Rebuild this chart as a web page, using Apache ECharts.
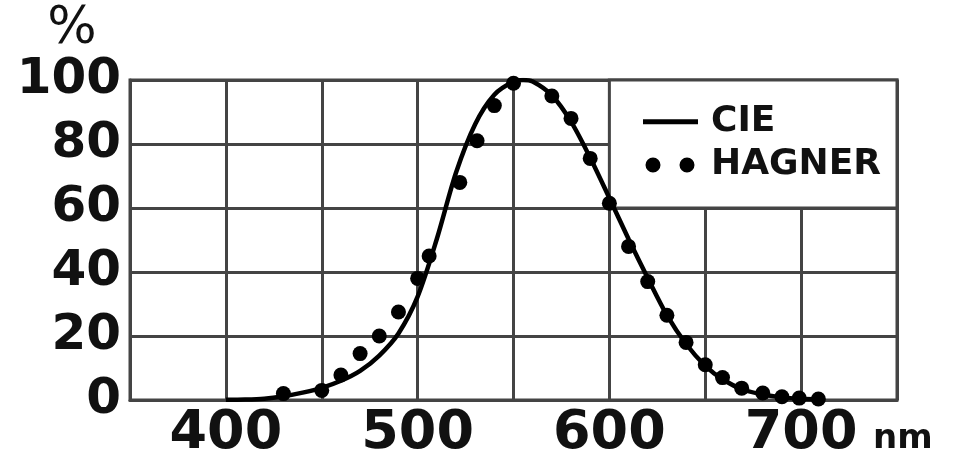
<!DOCTYPE html>
<html>
<head>
<meta charset="utf-8">
<script src="https://cdn.jsdelivr.net/npm/echarts@6/dist/echarts.min.js"></script>
<style>html,body{margin:0;padding:0;background:#fff}#c{width:955px;height:456px}</style>
</head>
<body>
<div id="c"></div>
<script>
// CIE photopic curve: wavelength (nm), relative sensitivity (%)
var cieWavelengths = [400,410,420,430,440,450,460,470,480,490,500,510,520,530,540,550,555,560,570,580,590,600,610,620,630,640,650,660,670,680,690,700,710];
var cieValues      = [0.04,0.12,0.4,1.16,2.3,3.8,6.0,9.1,13.9,20.8,32.3,50.3,71.0,86.2,95.4,99.5,100,99.5,95.2,87.0,75.7,63.1,50.3,38.1,26.5,17.5,10.7,6.1,3.2,1.7,0.82,0.41,0.21];
// HAGNER measured points
var hagnerWavelengths = [430,450,460,470,480,490,500,506,522,531,540,550,570,580,590,600,610,620,630,640,650,659,669,680,690,699,709];
var hagnerValues      = [2,3,7.8,14.5,20,27.5,38,45,68,81,92,99,95,88,75.5,61.5,48,37,26.5,18,11,7,3.7,2.2,1,0.6,0.3];
var xTicks = [400,500,600,700];
var yTicks = [0,20,40,60,80,100];

var cieData = cieWavelengths.map(function(w,i){return [w,cieValues[i]];});
var hagData = hagnerWavelengths.map(function(w,i){return [w,hagnerValues[i]];});

var gridColor = '#444';
var chart = echarts.init(document.getElementById('c'), null, {renderer:'canvas'});
chart.setOption({
  animation:false,
  backgroundColor:'#fff',
  grid:{left:130,right:58,top:80,bottom:56,show:true,borderColor:gridColor,borderWidth:3,backgroundColor:'#fff',
    outerBoundsMode:'none', containLabel:false},
  legend:{
    orient:'vertical', left:643, top:104, padding:0, itemGap:7,
    itemWidth:55, itemHeight:16,
    data:[
      {name:'CIE', icon:'path://M0,5.5L0,5.5M0,0H55V5H0Z'},
      {name:'HAGNER', icon:'path://M0,0L0,0M55,16L55,16M2.5,8a7.5,7.5 0 1,0 15,0a7.5,7.5 0 1,0 -15,0ZM36.5,8a7.5,7.5 0 1,0 15,0a7.5,7.5 0 1,0 -15,0Z'}
    ],
    textStyle:{fontFamily:'DejaVu Sans',fontWeight:'bold',fontSize:36,color:'#111',padding:[0,0,0,8]}
  },
  xAxis:{
    type:'value', min:350, max:750, interval:50,
    name:'nm', nameLocation:'end', nameGap:-24,
    nameTextStyle:{fontFamily:'DejaVu Sans',fontWeight:'bold',fontSize:34,color:'#111',verticalAlign:'top',padding:[22,0,0,0]},
    axisLine:{show:true,lineStyle:{color:gridColor,width:3}},
    axisTick:{show:false},
    splitLine:{show:true,lineStyle:{color:gridColor,width:3}},
    axisLabel:{
      margin:7, fontFamily:'DejaVu Sans', fontWeight:'bold', fontSize:54, color:'#111',
      formatter:function(v){return xTicks.indexOf(v)>=0?String(v):'';}
    }
  },
  yAxis:{
    type:'value', min:0, max:100, interval:20,
    name:'%', nameLocation:'end', nameGap:24,
    nameTextStyle:{fontFamily:'DejaVu Sans',fontSize:52,color:'#111',align:'center',padding:[0,116,0,0]},
    axisLine:{show:true,lineStyle:{color:gridColor,width:3}},
    axisTick:{show:false},
    splitLine:{show:true,lineStyle:{color:gridColor,width:3}},
    axisLabel:{
      margin:9, fontFamily:'DejaVu Sans', fontWeight:'bold', fontSize:50, color:'#111',
      formatter:function(v){return yTicks.indexOf(v)>=0?String(v):'';}
    }
  },
  series:[
    {
      name:'legendBox', type:'line', data:[], z:1, silent:true,
      markArea:{silent:true,itemStyle:{color:'#fff',borderColor:gridColor,borderWidth:3},
        data:[[{xAxis:600,yAxis:60},{xAxis:750,yAxis:100}]]}
    },
    {
      name:'CIE', type:'line', data:cieData, smooth:0.3, showSymbol:false, z:3,
      lineStyle:{color:'#000',width:4.5}, itemStyle:{color:'#000'}
    },
    {
      name:'HAGNER', type:'scatter', data:hagData, symbolSize:15, z:4,
      itemStyle:{color:'#000',opacity:1}
    }
  ]
});
</script>
</body>
</html>
